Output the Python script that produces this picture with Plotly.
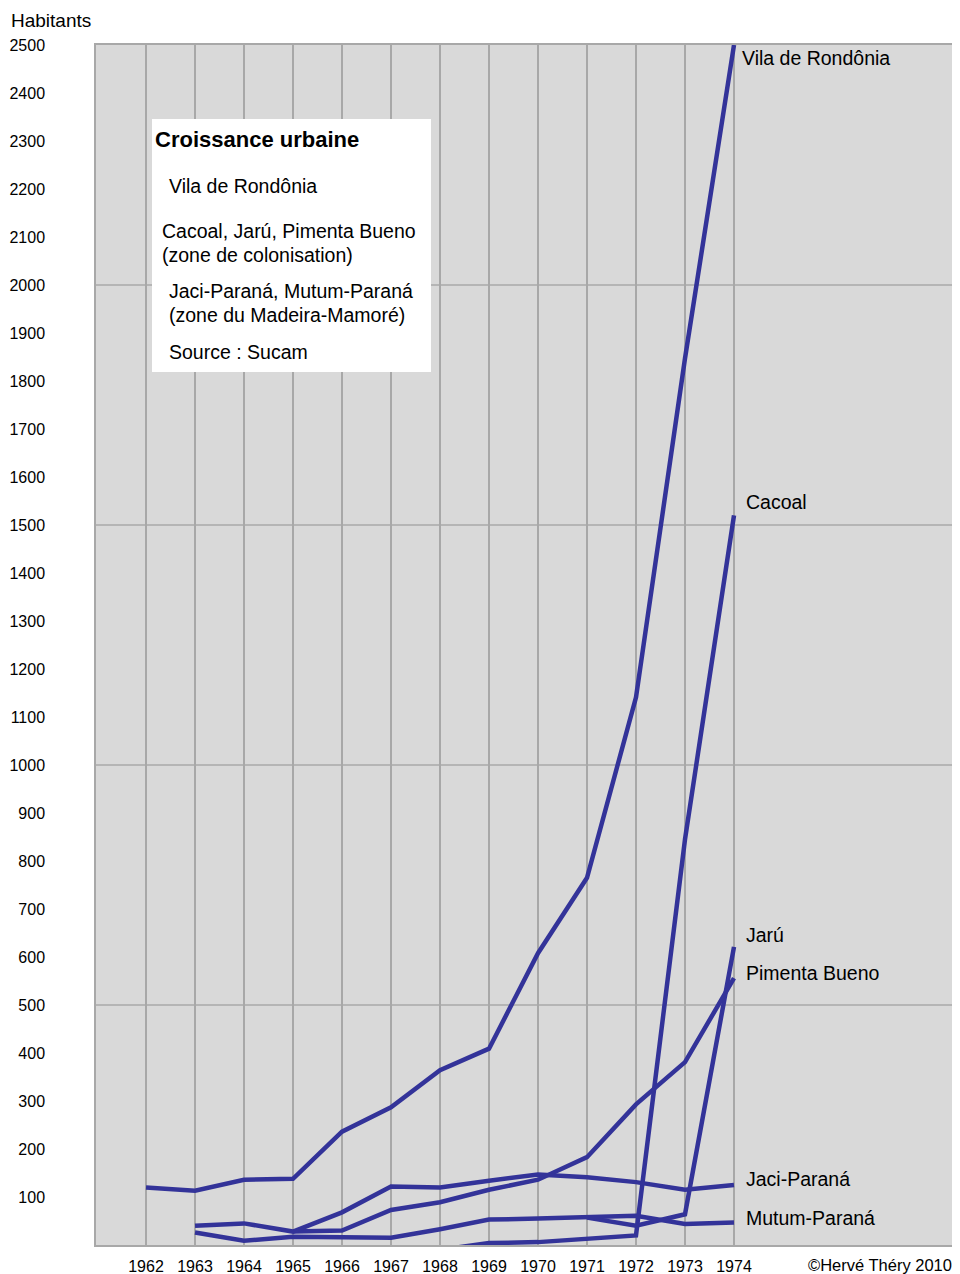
import plotly.graph_objects as go

# ---------------- data ----------------
YEARS = list(range(1962, 1975))
YEAR_LABELS = [str(y) for y in YEARS]

VILA_X = list(range(1962, 1975))
VILA_Y = [120, 113, 136, 138, 236, 287, 364, 409, 608, 765, 1141, 1847, 2500]

CACOAL_X = list(range(1968, 1975))
CACOAL_Y = [-10, 4, 6, 14, 20, 845, 1520]

JARU_X = list(range(1971, 1975))
JARU_Y = [57, 40, 64, 621]

PIMENTA_X = list(range(1965, 1975))
PIMENTA_Y = [28, 30, 73, 89, 115, 136, 183, 293, 381, 556]

JACI_X = list(range(1963, 1975))
JACI_Y = [40, 45, 28, 68, 122, 120, 134, 147, 141, 131, 115, 125]

MUTUM_X = list(range(1963, 1975))
MUTUM_Y = [26, 9, 17, 15, 15, 33, 53, 55, 57, 61, 44, 47]

SERIES_NAMES = ["Vila de Rondônia", "Cacoal", "Jarú", "Pimenta Bueno",
                "Jaci-Paraná", "Mutum-Paraná"]
SERIES_X = [VILA_X, CACOAL_X, JARU_X, PIMENTA_X, JACI_X, MUTUM_X]
SERIES_Y = [VILA_Y, CACOAL_Y, JARU_Y, PIMENTA_Y, JACI_Y, MUTUM_Y]

Y_TICKS = list(range(100, 2600, 100))
Y_GRID = [500, 1000, 1500, 2000]

LEGEND_TITLE = "Croissance urbaine"
LEGEND_LINES = ["Vila de Rondônia", "Cacoal, Jarú, Pimenta Bueno",
                "(zone de colonisation)", "Jaci-Paraná, Mutum-Paraná",
                "(zone du Madeira-Mamoré)", "Source : Sucam"]
Y_TITLE = "Habitants"
CREDIT = "©Hervé Théry 2010"

# ---------------- style ----------------
OFF = 8                      # page body margin of the browser
W, H = 960 - OFF, 1274 - OFF
ML, MR, MT, MB = 96 - OFF, 0, 45 - OFF, 29
PW, PH = W - ML - MR, H - MT - MB
LINE_COLOR = "#333399"
GRID_COLOR = "#a8a8a8"
FONT = "Arial, 'Liberation Sans', sans-serif"


def px(x):
    """page pixel x -> paper coordinate"""
    return (x - OFF - ML) / PW


def py(y):
    """page pixel y -> paper coordinate"""
    return (H - MB - (y - OFF)) / PH


fig = go.Figure()
for name, xs, ys in zip(SERIES_NAMES, SERIES_X, SERIES_Y):
    fig.add_trace(go.Scatter(x=xs, y=ys, mode="lines", name=name,
                             line=dict(color=LINE_COLOR, width=4.5),
                             showlegend=False, hoverinfo="skip"))

shapes = []
for g in Y_GRID:
    shapes.append(dict(type="line", xref="x domain", yref="y", x0=0, x1=1,
                       y0=g, y1=g, line=dict(color=GRID_COLOR, width=1.5),
                       layer="below"))
# legend box
shapes.append(dict(type="rect", xref="paper", yref="paper",
                   x0=px(152), x1=px(431), y0=py(372), y1=py(119),
                   fillcolor="white", line=dict(width=0), layer="above"))

annotations = []
# end-of-line labels
label_dy = [-13, 13, 12, 5, 6, 4]
label_dx = [6, 10, 10, 10, 10, 10]
for name, xs, ys, dx, dy in zip(SERIES_NAMES, SERIES_X, SERIES_Y, label_dx, label_dy):
    annotations.append(dict(x=xs[-1], y=ys[-1], xref="x", yref="y",
                            text=name, showarrow=False, xanchor="left",
                            yanchor="middle", xshift=dx, yshift=dy,
                            font=dict(size=19.5, color="black", family=FONT)))

# legend texts
annotations.append(dict(x=px(153), y=py(139), xref="paper", yref="paper",
                        text="<b>" + LEGEND_TITLE + "</b>", showarrow=False,
                        xanchor="left", yanchor="middle",
                        font=dict(size=22, color="black", family=FONT)))
leg_pos = [(167, 186), (160, 231), (160, 255), (167, 291), (167, 315), (167, 352)]
for t, (lx, ly) in zip(LEGEND_LINES, leg_pos):
    annotations.append(dict(x=px(lx), y=py(ly), xref="paper", yref="paper",
                            text=t, showarrow=False, xanchor="left",
                            yanchor="middle",
                            font=dict(size=19.5, color="black", family=FONT)))

annotations.append(dict(x=px(9), y=py(20), xref="paper", yref="paper",
                        text=Y_TITLE, showarrow=False, xanchor="left",
                        yanchor="middle",
                        font=dict(size=19, color="black", family=FONT)))
annotations.append(dict(x=px(954), y=py(1265), xref="paper", yref="paper",
                        text=CREDIT, showarrow=False, xanchor="right",
                        yanchor="middle",
                        font=dict(size=16.5, color="black", family=FONT)))

per_year = (734 - 146) / 12.0
x0 = 1962 - (146 - 96) / per_year
x1 = x0 + PW / per_year

fig.update_layout(
    width=W, height=H,
    margin=dict(l=ML, r=MR, t=MT, b=MB, pad=0),
    paper_bgcolor="white", plot_bgcolor="#d9d9d9",
    font=dict(family=FONT, color="black"),
    shapes=shapes, annotations=annotations,
    showlegend=False,
    xaxis=dict(range=[x0, x1], tickmode="array", tickvals=YEARS,
               ticktext=YEAR_LABELS, showgrid=True, gridcolor=GRID_COLOR,
               gridwidth=1.5, zeroline=False, showline=True,
               linecolor=GRID_COLOR, linewidth=1.5, mirror=True, ticks="",
               tickfont=dict(size=16, color="black", family=FONT),
               ticklabelstandoff=6, fixedrange=True),
    yaxis=dict(range=[0, 2500], tickmode="array", tickvals=Y_TICKS,
               showgrid=False, zeroline=False, showline=True,
               linecolor=GRID_COLOR, linewidth=1.5, mirror=False, ticks="",
               tickfont=dict(size=16, color="black", family=FONT),
               ticklabelstandoff=46, fixedrange=True),
)

fig.write_html("out.html")
